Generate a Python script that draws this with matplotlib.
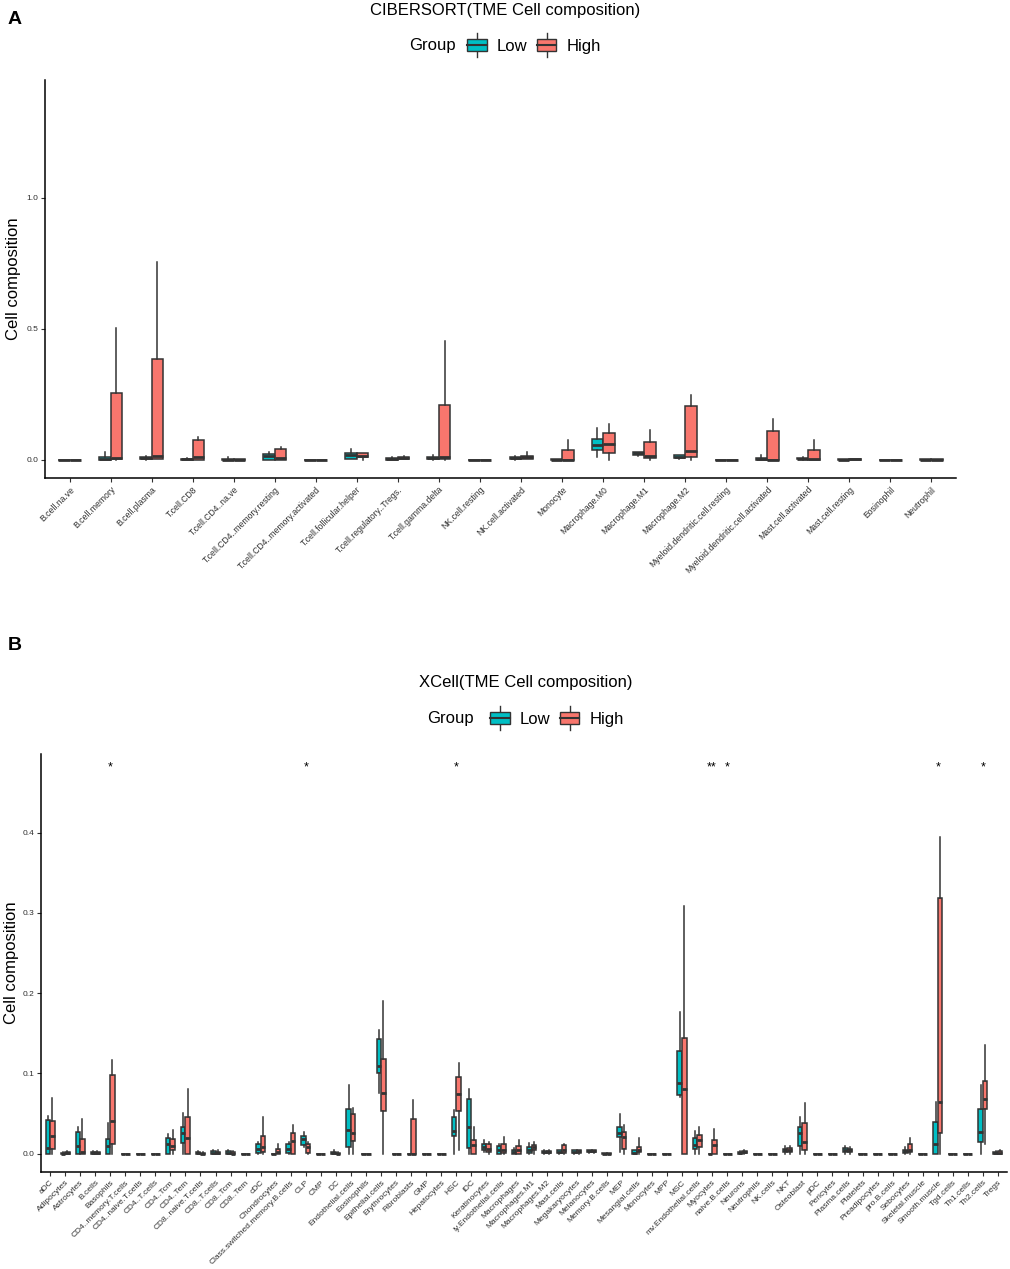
import matplotlib
matplotlib.use("Agg")
import matplotlib.pyplot as plt
from matplotlib.legend_handler import HandlerBase
from matplotlib.patches import Rectangle, Patch
from matplotlib.lines import Line2D

plt.rcParams['font.family'] = ['Liberation Sans', 'DejaVu Sans']

LOW_COLOR = '#00BFC4'
HIGH_COLOR = '#F8766D'
EDGE = '#333333'

# ---------------- Panel A: CIBERSORT ----------------
a_cells = ['B.cell.na.ve', 'B.cell.memory', 'B.cell.plasma', 'T.cell.CD8', 'T.cell.CD4..na.ve',
           'T.cell.CD4..memory.resting', 'T.cell.CD4..memory.activated', 'T.cell.follicular.helper',
           'T.cell.regulatory..Tregs.', 'T.cell.gamma.delta', 'NK.cell.resting', 'NK.cell.activated',
           'Monocyte', 'Macrophage.M0', 'Macrophage.M1', 'Macrophage.M2',
           'Myeloid.dendritic.cell.resting', 'Myeloid.dendritic.cell.activated',
           'Mast.cell.activated', 'Mast.cell.resting', 'Eosinophil', 'Neutrophil']

a_low_wlo = [0, 0, 0, 0, 0, 0, 0, 0.003, 0, 0, 0, 0, 0, 0.013, 0.015, 0.005, 0, 0, 0.001, 0, 0, 0]
a_low_q1  = [0, 0.001, 0.003, 0, 0, 0, 0, 0.005, 0, 0.003, 0, 0.003, 0, 0.039, 0.019, 0.008, 0, 0, 0.002, 0, 0, 0]
a_low_med = [0, 0.005, 0.006, 0.002, 0.001, 0.015, 0, 0.020, 0.003, 0.008, 0, 0.006, 0, 0.056, 0.027, 0.012, 0, 0.002, 0.005, 0.001, 0, 0]
a_low_q3  = [0, 0.010, 0.010, 0.005, 0.004, 0.022, 0, 0.028, 0.006, 0.012, 0, 0.010, 0.002, 0.081, 0.029, 0.018, 0, 0.007, 0.008, 0.003, 0, 0.002]
a_low_whi = [0, 0.032, 0.015, 0.008, 0.010, 0.032, 0, 0.042, 0.010, 0.020, 0, 0.015, 0.003, 0.123, 0.030, 0.020, 0, 0.017, 0.010, 0.004, 0, 0.003]

a_high_wlo = [0, 0, 0.002, 0, 0, 0, 0, 0, 0.003, 0, 0, 0.002, 0, 0, 0, 0, 0, 0, 0, 0, 0, 0]
a_high_q1  = [0, 0.005, 0.005, 0, 0, 0, 0, 0.010, 0.005, 0.003, 0, 0.005, 0, 0.027, 0.009, 0.010, 0, 0, 0, 0.001, 0, 0]
a_high_med = [0, 0.009, 0.016, 0.010, 0.001, 0.008, 0, 0.016, 0.008, 0.011, 0, 0.010, 0, 0.061, 0.015, 0.033, 0, 0, 0.002, 0.002, 0, 0]
a_high_q3  = [0, 0.257, 0.385, 0.076, 0.003, 0.042, 0, 0.026, 0.012, 0.210, 0, 0.015, 0.038, 0.102, 0.067, 0.207, 0, 0.109, 0.037, 0.004, 0, 0.002]
a_high_whi = [0, 0.505, 0.755, 0.089, 0.004, 0.048, 0, 0.026, 0.015, 0.452, 0, 0.029, 0.075, 0.137, 0.116, 0.249, 0, 0.158, 0.075, 0.005, 0, 0.003]

a_yticks = [0.0, 0.5, 1.0]
a_yticklabels = ['0.0', '0.5', '1.0']

# ---------------- Panel B: xCell ----------------
b_cells = ['aDC', 'Adipocytes', 'Astrocytes', 'B.cells', 'Basophils', 'CD4..memory.T.cells',
           'CD4..naive.T.cells', 'CD4..T.cells', 'CD4..Tcm', 'CD4..Tem', 'CD8..naive.T.cells',
           'CD8..T.cells', 'CD8..Tcm', 'CD8..Tem', 'cDC', 'Chondrocytes',
           'Class.switched.memory.B.cells', 'CLP', 'CMP', 'DC', 'Endothelial.cells', 'Eosinophils',
           'Epithelial.cells', 'Erythrocytes', 'Fibroblasts', 'GMP', 'Hepatocytes', 'HSC', 'iDC',
           'Keratinocytes', 'ly.Endothelial.cells', 'Macrophages', 'Macrophages.M1',
           'Macrophages.M2', 'Mast.cells', 'Megakaryocytes', 'Melanocytes', 'Memory.B.cells', 'MEP',
           'Mesangial.cells', 'Monocytes', 'MPP', 'MSC', 'mv.Endothelial.cells', 'Myocytes',
           'naive.B.cells', 'Neurons', 'Neutrophils', 'NK.cells', 'NKT', 'Osteoblast', 'pDC',
           'Pericytes', 'Plasma.cells', 'Platelets', 'Preadipocytes', 'pro.B.cells', 'Sebocytes',
           'Skeletal.muscle', 'Smooth.muscle', 'Tgd.cells', 'Th1.cells', 'Th2.cells', 'Tregs']

b_low_wlo = [0, 0, 0, 0, 0, 0, 0, 0, 0, 0, 0, 0, 0, 0, 0, 0, 0, 0.008, 0, 0, 0, 0, 0.075, 0, 0, 0, 0, 0, 0, 0.002,
             0, 0, 0, 0, 0, 0, 0.001, 0, 0.002, 0, 0, 0, 0.071, 0, 0, 0, 0, 0, 0, 0, 0, 0, 0, 0, 0, 0, 0, 0,
             0, 0, 0, 0, 0, 0]
b_low_q1  = [0, 0, 0, 0, 0, 0, 0, 0, 0, 0.013, 0, 0, 0, 0, 0.001, 0, 0.001, 0.011, 0, 0, 0.008, 0, 0.101, 0, 0, 0, 0, 0.0217, 0.007, 0.005,
             0, 0, 0.001, 0.001, 0.001, 0.001, 0.002, 0, 0.021, 0, 0, 0, 0.073, 0.0054, 0, 0, 0, 0, 0, 0.002, 0.009, 0, 0, 0.002, 0, 0, 0, 0.001,
             0, 0, 0, 0, 0.014, 0]
b_low_med = [0.007, 0, 0.010, 0.001, 0.010, 0, 0, 0, 0.012, 0.025, 0.001, 0.001, 0.001, 0, 0.006, 0, 0.006, 0.018, 0, 0.001, 0.029, 0, 0.109, 0, 0, 0, 0, 0.028, 0.0325, 0.008,
             0.004, 0.002, 0.005, 0.002, 0.002, 0.002, 0.003, 0, 0.025, 0.001, 0, 0, 0.088, 0.011, 0, 0, 0.001, 0, 0, 0.004, 0.025, 0, 0, 0.004, 0, 0, 0, 0.003,
             0, 0.0125, 0, 0, 0.027, 0.001]
b_low_q3  = [0.042, 0.001, 0.027, 0.002, 0.018, 0, 0, 0, 0.019, 0.033, 0.002, 0.003, 0.003, 0, 0.0125, 0, 0.0125, 0.022, 0, 0.002, 0.055, 0, 0.1425, 0, 0, 0, 0, 0.046, 0.0675, 0.0125,
             0.010, 0.005, 0.008, 0.003, 0.004, 0.004, 0.004, 0.001, 0.033, 0.004, 0, 0, 0.128, 0.020, 0, 0, 0.002, 0, 0, 0.006, 0.0325, 0, 0, 0.007, 0, 0, 0, 0.005,
             0, 0.039, 0, 0, 0.056, 0.002]
b_low_whi = [0.047, 0.002, 0.033, 0.003, 0.038, 0, 0, 0, 0.024, 0.051, 0.003, 0.005, 0.004, 0, 0.015, 0, 0.015, 0.027, 0, 0.004, 0.086, 0, 0.154, 0, 0, 0, 0, 0.054, 0.080, 0.017,
             0.012, 0.007, 0.013, 0.004, 0.005, 0.005, 0.005, 0.001, 0.049, 0.005, 0, 0, 0.176, 0.028, 0, 0, 0.003, 0, 0, 0.009, 0.046, 0, 0, 0.009, 0, 0, 0, 0.008,
             0, 0.0646, 0, 0, 0.086, 0.003]

b_high_wlo = [0, 0, 0, 0, 0, 0, 0, 0, 0, 0, 0, 0, 0, 0, 0, 0, 0, 0, 0, 0, 0, 0, 0, 0, 0, 0, 0, 0.004, 0, 0,
              0, 0, 0, 0, 0, 0, 0.001, 0, 0, 0, 0, 0, 0, 0, 0, 0, 0, 0, 0, 0, 0, 0, 0, 0, 0, 0, 0, 0,
              0, 0, 0, 0, 0.012, 0]
b_high_q1  = [0.006, 0, 0, 0, 0.012, 0, 0, 0, 0.005, 0, 0, 0, 0, 0, 0.002, 0, 0, 0.001, 0, 0, 0.016, 0, 0.053, 0, 0, 0, 0, 0.053, 0, 0.002,
              0.001, 0, 0.005, 0.001, 0.001, 0.001, 0.002, 0, 0.006, 0.002, 0, 0, 0, 0.008, 0, 0, 0.001, 0, 0, 0.002, 0.004, 0, 0, 0.002, 0, 0, 0, 0.002,
              0, 0.025, 0, 0, 0.055, 0]
b_high_med = [0.022, 0.001, 0.002, 0.001, 0.040, 0, 0, 0, 0.010, 0.020, 0, 0.001, 0, 0, 0.008, 0.002, 0.016, 0.008, 0, 0, 0.025, 0, 0.076, 0, 0, 0, 0, 0.074, 0.0104, 0.006,
              0.005, 0.005, 0.008, 0.002, 0.004, 0.003, 0.003, 0, 0.021, 0.005, 0, 0, 0.080, 0.0167, 0.011, 0, 0.002, 0, 0, 0.004, 0.0146, 0, 0, 0.004, 0, 0, 0, 0.005,
              0, 0.0646, 0, 0, 0.068, 0.001]
b_high_q3  = [0.040, 0.002, 0.018, 0.002, 0.0975, 0, 0, 0, 0.018, 0.046, 0.001, 0.002, 0.002, 0, 0.022, 0.006, 0.026, 0.0125, 0, 0.001, 0.049, 0, 0.1175, 0, 0.0425, 0, 0, 0.096, 0.0167, 0.0125,
              0.012, 0.010, 0.0104, 0.003, 0.0104, 0.004, 0.004, 0.001, 0.027, 0.008, 0, 0, 0.1446, 0.023, 0.0175, 0, 0.003, 0, 0, 0.007, 0.0375, 0, 0, 0.006, 0, 0, 0, 0.012,
              0, 0.319, 0, 0, 0.091, 0.003]
b_high_whi = [0.069, 0.003, 0.043, 0.003, 0.117, 0, 0, 0, 0.029, 0.081, 0.002, 0.004, 0.003, 0, 0.045, 0.0125, 0.035, 0.014, 0, 0.002, 0.057, 0, 0.190, 0, 0.067, 0, 0, 0.1125, 0.0325, 0.014,
              0.021, 0.017, 0.014, 0.004, 0.012, 0.005, 0.004, 0.001, 0.035, 0.0196, 0, 0, 0.309, 0.033, 0.030, 0, 0.005, 0, 0, 0.009, 0.0625, 0, 0, 0.008, 0, 0, 0, 0.0196,
              0, 0.394, 0, 0, 0.135, 0.004]

b_yticks = [0.0, 0.1, 0.2, 0.3, 0.4]
b_yticklabels = ['0.0', '0.1', '0.2', '0.3', '0.4']

b_sig_cells = ['Basophils', 'CLP', 'HSC', 'Myocytes', 'naive.B.cells', 'Smooth.muscle', 'Th2.cells']
b_sig_labels = ['*', '*', '*', '**', '*', '*', '*']

# ---------------- helpers ----------------
W, H = 1010, 1269


def fx(px):
    return px / W


def fy(py):
    return 1 - py / H


def make_stats(wlo, q1, med, q3, whi):
    return [dict(whislo=a, q1=b, med=c, q3=d, whishi=e, fliers=[])
            for a, b, c, d, e in zip(wlo, q1, med, q3, whi)]


class BoxKey(HandlerBase):
    def create_artists(self, legend, orig_handle, xdescent, ydescent, width, height, fontsize, trans):
        x0, y0 = -xdescent, -ydescent
        fc = orig_handle.get_facecolor()
        cx = x0 + width / 2
        w1 = Line2D([cx, cx], [y0 - 0.3 * height, y0 + 0.12 * height], color=EDGE, lw=1.0, transform=trans)
        w2 = Line2D([cx, cx], [y0 + 0.88 * height, y0 + 1.3 * height], color=EDGE, lw=1.0, transform=trans)
        rect = Rectangle((x0, y0 + 0.12 * height), width, 0.76 * height, facecolor=fc,
                         edgecolor=EDGE, lw=1.0, transform=trans)
        med = Line2D([x0, x0 + width], [y0 + 0.5 * height] * 2, color=EDGE, lw=1.5, transform=trans)
        return [w1, w2, rect, med]


def draw_panel(ax, cells, low, high, width, offset, ylim, yticks, yticklabels, fs_x):
    n = len(cells)
    pos = list(range(1, n + 1))
    for stats, color, sgn in ((low, LOW_COLOR, -1), (high, HIGH_COLOR, 1)):
        ax.bxp(stats, positions=[p + sgn * offset for p in pos], widths=width,
               patch_artist=True, showfliers=False, showcaps=False, manage_ticks=False,
               boxprops=dict(facecolor=color, edgecolor=EDGE, linewidth=1.1),
               medianprops=dict(color=EDGE, linewidth=2.0),
               whiskerprops=dict(color=EDGE, linewidth=1.1))
    ax.set_xlim(0.4, n + 0.6)
    ax.set_ylim(*ylim)
    ax.set_xticks(pos)
    ax.set_xticklabels(cells, rotation=45, ha='right', va='top', rotation_mode='anchor',
                       fontsize=fs_x, color='#303030')
    ax.set_yticks(yticks)
    ax.set_yticklabels(yticklabels, fontsize=6, color='#303030')
    for s in ('top', 'right'):
        ax.spines[s].set_visible(False)
    for s in ('left', 'bottom'):
        ax.spines[s].set_linewidth(1.1)
        ax.spines[s].set_color('black')
    ax.tick_params(axis='both', length=3, width=0.8, color='#303030', pad=2)


def draw_legend(fig, cx, cy, group_right):
    fig.text(fx(group_right), fy(cy), 'Group', ha='right', va='center', fontsize=12)
    fig.legend(handles=[Patch(facecolor=LOW_COLOR), Patch(facecolor=HIGH_COLOR)],
               labels=['Low', 'High'], handler_map={Patch: BoxKey()}, ncol=2, loc='center',
               bbox_to_anchor=(fx(cx), fy(cy)), frameon=False, fontsize=12,
               handlelength=1.15, handleheight=1.0, handletextpad=0.6, columnspacing=0.6,
               borderpad=0, borderaxespad=0)


fig = plt.figure(figsize=(W / 100, H / 100), dpi=100)

# Panel A
axA = fig.add_axes([fx(45), fy(478), fx(956) - fx(45), fy(80) - fy(478)])
draw_panel(axA, a_cells,
           make_stats(a_low_wlo, a_low_q1, a_low_med, a_low_q3, a_low_whi),
           make_stats(a_high_wlo, a_high_q1, a_high_med, a_high_q3, a_high_whi),
           0.28, 0.14, (-0.069, 1.45), a_yticks, a_yticklabels, 6.2)
fig.text(fx(14), fy(279), 'Cell composition', rotation=90, ha='center', va='center', fontsize=12)
fig.text(fx(505), fy(11), 'CIBERSORT(TME Cell composition)', ha='center', va='center', fontsize=12)
draw_legend(fig, 534, 45.5, 456)
fig.text(fx(8), fy(20), 'A', ha='left', va='center', fontsize=14, fontweight='bold')

# Panel B
axB = fig.add_axes([fx(41), fy(1172), fx(1007) - fx(41), fy(754) - fy(1172)])
draw_panel(axB, b_cells,
           make_stats(b_low_wlo, b_low_q1, b_low_med, b_low_q3, b_low_whi),
           make_stats(b_high_wlo, b_high_q1, b_high_med, b_high_q3, b_high_whi),
           0.3, 0.15, (-0.023, 0.498), b_yticks, b_yticklabels, 6.0)
for cell, lab in zip(b_sig_cells, b_sig_labels):
    axB.text(b_cells.index(cell) + 1, 0.481, lab, ha='center', va='center', fontsize=9)
fig.text(fx(12), fy(963), 'Cell composition', rotation=90, ha='center', va='center', fontsize=12)
fig.text(fx(526), fy(682), 'XCell(TME Cell composition)', ha='center', va='center', fontsize=12)
draw_legend(fig, 557, 718.5, 474)
fig.text(fx(8), fy(645), 'B', ha='left', va='center', fontsize=14, fontweight='bold')

fig.savefig('out.png', dpi=100)
